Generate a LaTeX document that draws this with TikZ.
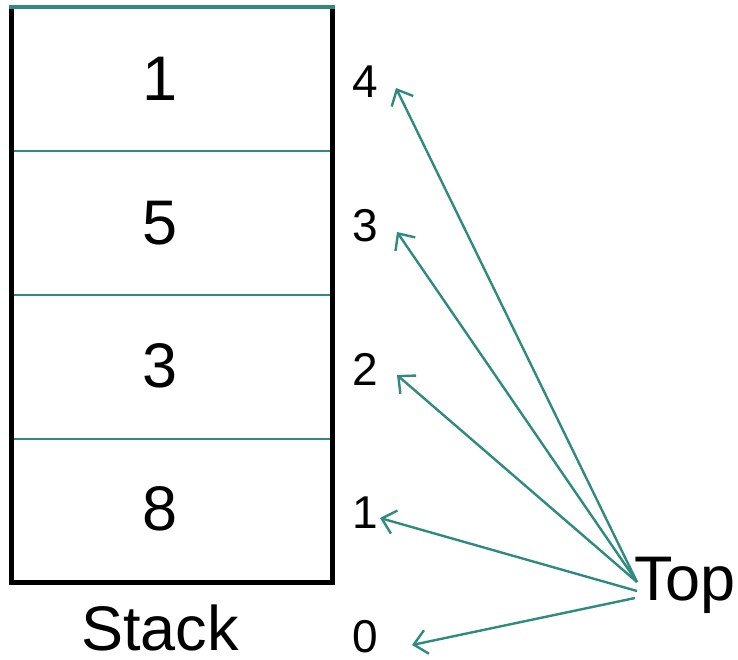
\documentclass[tikz,border=0pt]{standalone}
\usepackage{fontspec}
\setmainfont{Liberation Sans}
\usetikzlibrary{arrows.meta}
\definecolor{teal1}{RGB}{46,139,126}
\begin{document}
\begin{tikzpicture}[x=1pt,y=-1pt,
  cell/.style={font=\fontsize{63}{63}\selectfont,inner sep=0pt,anchor=base},
  idx/.style={font=\fontsize{46}{46}\selectfont,inner sep=0pt,anchor=base},
  divider/.style={teal1,line width=2.8pt},
  ptr/.style={teal1,line width=2.4pt,-{Straight Barb[length=13pt,width=24pt,line width=2.4pt]}}]
\useasboundingbox (0,0) rectangle (738,659);
% stack frame
\draw[line width=5pt,line join=miter] (11.5,7) -- (11.5,582) -- (332,582) -- (332,7);
\draw[teal1,line width=3.8pt] (9,7) -- (334.5,7);
\draw[divider] (14,151) -- (330,151);
\draw[divider] (14,295) -- (330,295);
\draw[divider] (14,439) -- (330,439);
% cell values
\node[cell] (v1) at (160,100) {1};
\node[cell] (v5) at (160,244) {5};
\node[cell] (v3) at (160,387) {3};
\node[cell] (v8) at (160,530) {8};
\node[cell,text depth=0pt] (stack) at (160,650) {Stack};
% indices
\node[idx] (i4) at (365,97) {4};
\node[idx] (i3) at (365,241) {3};
\node[idx] (i2) at (365,385) {2};
\node[idx] (i1) at (365,528) {1};
\node[idx,text depth=0pt] (i0) at (365,652) {0};
% top pointer
\node[cell,anchor=base west] (top) at (634,600) {Top};
\coordinate (s4) at (637,582);
\coordinate (s1) at (637,591);
\coordinate (s0) at (635,598);
\coordinate (t4) at (396,88);
\coordinate (t3) at (397,232);
\coordinate (t2) at (397,375);
\coordinate (t1) at (380,518);
\coordinate (t0) at (412,645);
\draw[ptr] (s4) -- (t4);
\draw[ptr] (s4) -- (t3);
\draw[ptr] (s4) -- (t2);
\draw[ptr] (s1) -- (t1);
\draw[ptr] (s0) -- (t0);
\end{tikzpicture}
\end{document}
